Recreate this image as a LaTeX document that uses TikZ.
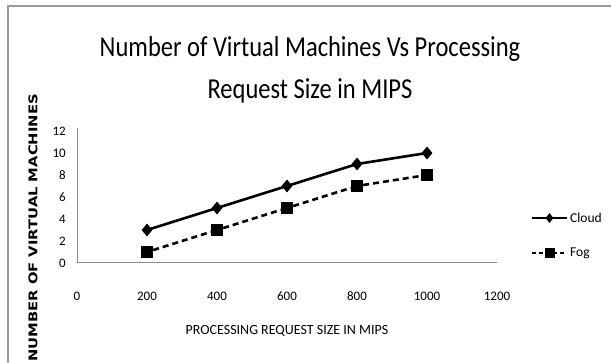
\documentclass[tikz,border=0pt]{standalone}
\usepackage{fontspec}
\setmainfont{Carlito}
\newfontfamily\vtitlefont{DejaVu Sans}
\usetikzlibrary{shapes.geometric,positioning}
\definecolor{framegray}{gray}{0.6}
\definecolor{axisgray}{gray}{0.55}
\tikzset{
	cmark/.style={diamond,fill=black,inner sep=0pt,minimum width=11pt,minimum height=13pt},
	fmark/.style={rectangle,fill=black,inner sep=0pt,minimum size=12pt},
	cloudline/.style={line width=2.6pt,black},
	fogline/.style={line width=2.6pt,black,dash pattern=on 6pt off 4pt},
	ytick/.style={anchor=east,inner sep=0pt,font=\fontsize{13}{15}\selectfont},
	xtick/.style={inner sep=0pt,font=\fontsize{13}{15}\selectfont},
	legtext/.style={anchor=west,inner sep=0pt,font=\fontsize{13.5}{15}\selectfont},
	axisline/.style={axisgray,line width=1pt}}

\begin{document}
\begin{tikzpicture}[x=1pt,y=-1pt]
	\useasboundingbox (0,0) rectangle (611,363);
	% frame
	\coordinate (F0) at (8,6);
	\coordinate (F1) at (611,6);
	\coordinate (F2) at (8,363);
	\draw [framegray,line width=1.5pt] (F1) -- (F0) -- (F2);
	% title
	\node (title) at (310,69) [inner sep=0pt,font=\fontsize{24.5}{36}\selectfont]
	{\scalebox{1}[1.18]{\begin{tabular}{@{}c@{}}Number of Virtual Machines Vs Processing\\Request Size in MIPS\end{tabular}}};
	% axes
	\coordinate (O) at (77,263);
	\coordinate (Ytop) at (77,128);
	\coordinate (Xend) at (497,263);
	\draw [axisline] (Ytop) -- (O) -- (Xend);
	\node (y0) at (66,263) [ytick] {0};
	\node (y2) at (66,241) [ytick] {2};
	\node (y4) at (66,219) [ytick] {4};
	\node (y6) at (66,197) [ytick] {6};
	\node (y8) at (66,175) [ytick] {8};
	\node (y10) at (66,153) [ytick] {10};
	\node (y12) at (66,131) [ytick] {12};
	\node (x0) at (77,296) [xtick] {0};
	\node (x200) at (147,296) [xtick] {200};
	\node (x400) at (217,296) [xtick] {400};
	\node (x600) at (287,296) [xtick] {600};
	\node (x800) at (357,296) [xtick] {800};
	\node (x1000) at (427,296) [xtick] {1000};
	\node (x1200) at (497,296) [xtick] {1200};
	\node (xtitle) at (287,331) [font=\fontsize{14}{16}\selectfont] {PROCESSING REQUEST SIZE IN MIPS};
	\node (ytitle) at (33,228) [rotate=90,font=\vtitlefont\bfseries\fontsize{12}{14}\selectfont]
	{\scalebox{1.23}[1]{NUMBER OF VIRTUAL MACHINES}};
	% cloud
	\node (C1) at (147,230) [cmark] {};
	\node (C2) at (217,208) [cmark] {};
	\node (C3) at (287,186) [cmark] {};
	\node (C4) at (357,164) [cmark] {};
	\node (C5) at (427,153) [cmark] {};
	\draw [cloudline] (C1.center) -- (C2.center) -- (C3.center) -- (C4.center) -- (C5.center);
	% fog
	\node (G1) at (147,252) [fmark] {};
	\node (G2) at (217,230) [fmark] {};
	\node (G3) at (287,208) [fmark] {};
	\node (G4) at (357,186) [fmark] {};
	\node (G5) at (427,175) [fmark] {};
	\draw [fogline] (G1) -- (G2) -- (G3) -- (G4) -- (G5);
	% legend
	\coordinate (L1a) at (532,218);
	\coordinate (L1b) at (567,218);
	\draw [cloudline,line width=2pt] (L1a) -- (L1b);
	\node (L1m) at (549.5,218) [cmark,minimum width=8pt,minimum height=10pt] {};
	\node (L1t) at (570,218) [legtext] {Cloud};
	\coordinate (L2a) at (532,253);
	\coordinate (L2b) at (567,253);
	\draw [fogline,line width=2pt,dash pattern=on 4pt off 3pt] (L2a) -- (L2b);
	\node (L2m) at (549.5,253) [fmark,minimum size=10pt] {};
	\node (L2t) at (570,253) [legtext] {Fog};
\end{tikzpicture}
\end{document}
